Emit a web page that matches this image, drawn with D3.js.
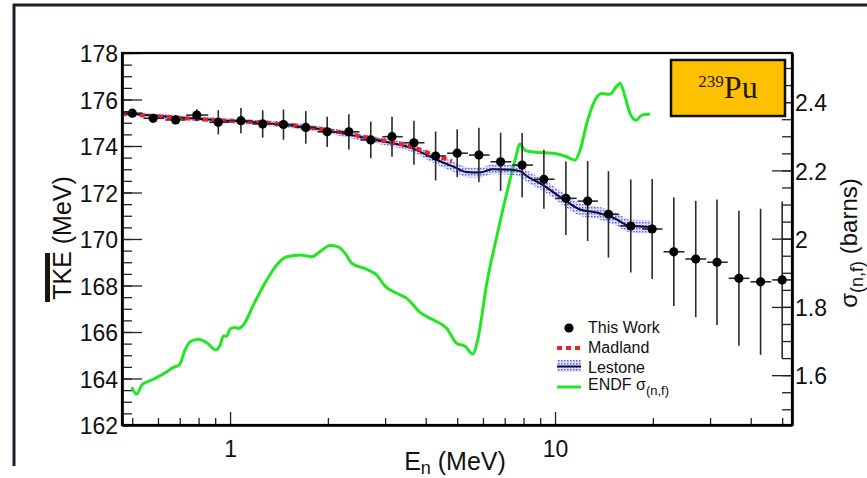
<!DOCTYPE html>
<html>
<head>
<meta charset="utf-8">
<script src="https://cdn.jsdelivr.net/npm/d3@7"></script>
<style>
body { margin: 0; background: #fff; }
svg { display: block; font-family: "Liberation Sans", Arial, sans-serif; }
</style>
</head>
<body>
<div id="chart"></div>
<script>
// measured TKE, one point per energy bin
const energy = [0.50, 0.58, 0.68, 0.79, 0.92, 1.08, 1.26, 1.46, 1.71, 1.99, 2.32, 2.71, 3.15, 3.68, 4.29,
                5.00, 5.83, 6.80, 7.92, 9.24, 10.8, 12.6, 14.6, 17.1, 19.9, 23.2, 27.1, 31.5, 36.8, 42.9, 50.0];
const binEdges = [0.46, 0.54, 0.63, 0.73, 0.86, 1.0, 1.17, 1.36, 1.58, 1.85, 2.15, 2.51, 2.93, 3.41, 3.98, 4.64,
                  5.41, 6.31, 7.36, 8.58, 10.0, 11.7, 13.6, 15.8, 18.5, 21.5, 25.1, 29.3, 34.1, 39.8, 46.4, 54.1];
const tke = [175.41, 175.19, 175.12, 175.33, 175.02, 175.09, 174.95, 174.92, 174.80, 174.61, 174.61, 174.26,
             174.40, 174.14, 173.57, 173.69, 173.61, 173.32, 173.18, 172.57, 171.75, 171.63, 171.06, 170.56,
             170.43, 169.45, 169.14, 169.00, 168.31, 168.16, 168.24];
const tkeErr = [0.12, 0.15, 0.18, 0.25, 0.52, 0.54, 0.59, 0.65, 0.70, 0.65, 0.76, 0.79, 0.86, 0.95, 1.05,
                1.03, 1.17, 1.25, 1.38, 1.27, 1.58, 1.72, 1.86, 2.00, 2.15, 2.33, 2.50, 2.70, 2.90, 3.14, 3.37];

// Madland model
const madlandE = [0.465, 0.81, 1.46, 1.99, 2.70, 3.66, 4.27, 4.64, 4.82];
const madlandTKE = [175.38, 175.15, 174.93, 174.69, 174.33, 173.94, 173.60, 173.43, 173.35];

// Lestone model with its band
const lestoneE = [0.465, 0.81, 1.46, 1.99, 2.70, 3.66, 4.27, 4.86, 5.40, 5.88, 6.40, 7.27, 7.80, 8.20, 9.19,
                  10.58, 11.94, 13.56, 15.30, 17.01, 19.74];
const lestoneTKE = [175.41, 175.16, 174.92, 174.67, 174.30, 173.89, 173.44, 173.11, 172.87, 172.86, 173.00,
                    172.98, 172.92, 172.70, 172.32, 171.72, 171.27, 171.13, 170.88, 170.56, 170.52];
const lestoneErr = [0.10, 0.10, 0.12, 0.13, 0.15, 0.17, 0.20, 0.22, 0.22, 0.22, 0.22, 0.22, 0.24, 0.25, 0.26,
                    0.27, 0.27, 0.27, 0.28, 0.28, 0.28];

// ENDF fission cross section (right axis)
const endfE = [0.498, 0.516, 0.535, 0.581, 0.639, 0.669, 0.698, 0.727, 0.753, 0.799, 0.848, 0.904, 0.932,
               0.954, 0.977, 1.0, 1.036, 1.060, 1.099, 1.180, 1.297, 1.392, 1.495, 1.642, 1.784, 1.892, 2.031,
               2.154, 2.259, 2.369, 2.634, 2.828, 2.999, 3.259, 3.498, 3.842, 4.222, 4.643, 4.984, 5.286,
               5.582, 5.808, 6.164, 6.616, 7.102, 7.533, 7.803, 8.085, 8.576, 9.88, 10.86, 11.52, 11.94,
               12.52, 13.12, 13.92, 14.76, 15.48, 15.85, 16.42, 17.01, 17.75, 18.49, 19.6];
const endfSigma = [1.565, 1.544, 1.571, 1.588, 1.610, 1.623, 1.630, 1.674, 1.698, 1.705, 1.695, 1.674, 1.688,
                   1.715, 1.715, 1.735, 1.740, 1.737, 1.747, 1.806, 1.879, 1.923, 1.947, 1.952, 1.947, 1.962,
                   1.980, 1.976, 1.957, 1.928, 1.910, 1.893, 1.861, 1.840, 1.825, 1.784, 1.762, 1.737, 1.693,
                   1.685, 1.662, 1.713, 1.869, 2.006, 2.133, 2.230, 2.277, 2.259, 2.254, 2.250, 2.240, 2.230,
                   2.259, 2.338, 2.396, 2.425, 2.423, 2.447, 2.455, 2.416, 2.367, 2.347, 2.362, 2.365];

const leftTicks = [162, 164, 166, 168, 170, 172, 174, 176, 178];
const rightTicks = [1.6, 1.8, 2, 2.2, 2.4];
const bottomTicks = [1, 10];
const bottomMinor = [0.5, 0.6, 0.7, 0.8, 0.9, 2, 3, 4, 5, 6, 7, 8, 9, 20, 30, 40, 50];

const W = 867, H = 478;
const box = {left: 122, right: 792, top: 53, bottom: 425};

const svg = d3.select("#chart").append("svg")
    .attr("width", W)
    .attr("height", H);

svg.append("rect").attr("width", W).attr("height", H).attr("fill", "#fff");

// slide frame
svg.append("line").attr("x1", 13).attr("x2", W).attr("y1", 5).attr("y2", 5)
    .attr("stroke", "#1c1c2a").attr("stroke-width", 3);
svg.append("line").attr("x1", 14).attr("x2", 14).attr("y1", 4).attr("y2", 466)
    .attr("stroke", "#1c1c2a").attr("stroke-width", 3);

const x = d3.scaleLog().domain([0.465, 53.6]).range([box.left, box.right]);
const y = d3.scaleLinear().domain([162, 178]).range([box.bottom, box.top]);
const y2 = d3.scaleLinear().domain([1.454, 2.544]).range([box.bottom, box.top]);

const defs = svg.append("defs");
defs.append("clipPath").attr("id", "clip")
    .append("rect")
    .attr("x", box.left).attr("y", box.top)
    .attr("width", box.right - box.left).attr("height", box.bottom - box.top);

const pat = defs.append("pattern").attr("id", "hatch")
    .attr("width", 3).attr("height", 3)
    .attr("patternUnits", "userSpaceOnUse");
pat.append("rect").attr("width", 3).attr("height", 3).attr("fill", "rgba(130,130,255,0.25)");
pat.append("rect").attr("width", 1.5).attr("height", 1.5).attr("fill", "#3434ff").attr("opacity", 0.75);

const plot = svg.append("g").attr("clip-path", "url(#clip)");

// ENDF curve
const endfData = endfE.map((e, i) => ({e: e, s: endfSigma[i]}));
plot.append("path")
    .datum(endfData)
    .attr("fill", "none")
    .attr("stroke", "#22e622")
    .attr("stroke-width", 3)
    .attr("stroke-linejoin", "round")
    .attr("d", d3.line().x(d => x(d.e)).y(d => y2(d.s)).curve(d3.curveMonotoneX));

// Lestone band + line
const lestoneData = lestoneE.map((e, i) => ({e: e, v: lestoneTKE[i], err: lestoneErr[i]}));
plot.append("path")
    .datum(lestoneData)
    .attr("fill", "url(#hatch)")
    .attr("d", d3.area().x(d => x(d.e)).y0(d => y(d.v - d.err)).y1(d => y(d.v + d.err)).curve(d3.curveMonotoneX));
plot.append("path")
    .datum(lestoneData)
    .attr("fill", "none")
    .attr("stroke", "#0c0c30")
    .attr("stroke-width", 2)
    .attr("d", d3.line().x(d => x(d.e)).y(d => y(d.v)).curve(d3.curveMonotoneX));

// Madland
const madlandData = madlandE.map((e, i) => ({e: e, v: madlandTKE[i]}));
plot.append("path")
    .datum(madlandData)
    .attr("fill", "none")
    .attr("stroke", "#ff1a1a")
    .attr("stroke-width", 4)
    .attr("stroke-dasharray", "5,4")
    .attr("d", d3.line().x(d => x(d.e)).y(d => y(d.v)).curve(d3.curveMonotoneX));

// data points with error bars
const pts = energy.map((e, i) => ({e: e, v: tke[i], err: tkeErr[i], lo: binEdges[i], hi: binEdges[i + 1]}));
const pg = plot.selectAll("g.pt").data(pts).enter().append("g").attr("class", "pt");
pg.append("line")
    .attr("x1", d => x(d.e)).attr("x2", d => x(d.e))
    .attr("y1", d => y(d.v - d.err)).attr("y2", d => y(d.v + d.err))
    .attr("stroke", "#2a2a2a").attr("stroke-width", 1.6);
pg.append("line")
    .attr("x1", d => x(d.lo) + 0.5).attr("x2", d => x(d.hi) - 0.5)
    .attr("y1", d => y(d.v)).attr("y2", d => y(d.v))
    .attr("stroke", "#2a2a2a").attr("stroke-width", 1.6);
pg.append("circle")
    .attr("cx", d => x(d.e)).attr("cy", d => y(d.v))
    .attr("r", 4.6).attr("fill", "#000");

// axes
function styleAxis(g) {
    g.select(".domain").attr("stroke", "#000").attr("stroke-width", 2.2);
    g.selectAll(".tick line").attr("stroke", "#222").attr("stroke-width", 1.3);
    g.selectAll("text").attr("font-size", 23).attr("fill", "#111")
        .attr("font-family", "'Liberation Sans', Arial, sans-serif");
}

svg.append("g")
    .attr("transform", `translate(${box.left},0)`)
    .call(d3.axisLeft(y).tickValues(d3.range(162, 178.01, 0.5)).tickSize(-10).tickSizeOuter(0).tickFormat(""))
    .call(styleAxis);
svg.append("g")
    .attr("transform", `translate(${box.left},0)`)
    .call(d3.axisLeft(y).tickValues(leftTicks).tickSize(-20).tickSizeOuter(0).tickPadding(4))
    .call(styleAxis)
    .selectAll("text").attr("dy", "0.38em");

svg.append("g")
    .attr("transform", `translate(${box.right},0)`)
    .call(d3.axisRight(y2).tickValues(d3.range(1.5, 2.54, 0.05)).tickSize(-10).tickSizeOuter(0).tickFormat(""))
    .call(styleAxis);
svg.append("g")
    .attr("transform", `translate(${box.right},0)`)
    .call(d3.axisRight(y2).tickValues(rightTicks).tickSize(-20).tickSizeOuter(0).tickPadding(3)
        .tickFormat(d => d3.format("~g")(d)))
    .call(styleAxis)
    .selectAll("text").attr("dy", "0.38em");

svg.append("g")
    .attr("transform", `translate(0,${box.bottom})`)
    .call(d3.axisBottom(x).tickValues(bottomMinor).tickSize(-7).tickSizeOuter(0).tickFormat(""))
    .call(styleAxis);
svg.append("g")
    .attr("transform", `translate(0,${box.bottom})`)
    .call(d3.axisBottom(x).tickValues(bottomTicks).tickSize(-13).tickSizeOuter(0).tickPadding(16)
        .tickFormat(d3.format("d")))
    .call(styleAxis);

// frame top and right
svg.append("rect")
    .attr("x", box.left).attr("y", box.top)
    .attr("width", box.right - box.left).attr("height", box.bottom - box.top)
    .attr("fill", "none").attr("stroke", "#000").attr("stroke-width", 2.2);

// axis titles
svg.append("text")
    .attr("transform", "translate(71,238) rotate(-90)")
    .attr("text-anchor", "middle")
    .attr("font-size", 25).attr("fill", "#111")
    .text("TKE (MeV)");
svg.append("rect").attr("x", 45).attr("y", 253).attr("width", 5).attr("height", 49).attr("fill", "#1e140a");

const y2t = svg.append("text")
    .attr("transform", "translate(857,243) rotate(-90)")
    .attr("text-anchor", "middle")
    .attr("font-size", 24).attr("fill", "#111");
y2t.append("tspan").text("σ");
y2t.append("tspan").attr("font-size", 18).attr("dy", 6).text("(n,f)");
y2t.append("tspan").attr("dy", -6).text(" (barns)");

const xt = svg.append("text")
    .attr("x", 455).attr("y", 470)
    .attr("text-anchor", "middle")
    .attr("font-size", 25).attr("fill", "#111");
xt.append("tspan").text("E");
xt.append("tspan").attr("font-size", 18).attr("dy", 4).text("n");
xt.append("tspan").attr("dy", -4).text(" (MeV)");

// isotope label
svg.append("rect")
    .attr("x", 671).attr("y", 60).attr("width", 114).attr("height", 56)
    .attr("fill", "#ffc000").attr("stroke", "#111").attr("stroke-width", 2.5);
const lab = svg.append("text")
    .attr("x", 728).attr("y", 98)
    .attr("text-anchor", "middle")
    .attr("font-family", "'Liberation Serif', 'Times New Roman', serif")
    .attr("fill", "#1a1a1a");
lab.append("tspan").attr("font-size", 17).attr("dy", -11).text("239");
lab.append("tspan").attr("font-size", 32).attr("dy", 11).text("Pu");

// legend
const lg = svg.append("g").attr("font-size", 16).attr("fill", "#111");
lg.append("circle").attr("cx", 569).attr("cy", 328).attr("r", 4.6).attr("fill", "#000");
lg.append("text").attr("x", 588).attr("y", 333).text("This Work");
lg.append("line").attr("x1", 557).attr("x2", 581).attr("y1", 348).attr("y2", 348)
    .attr("stroke", "#ff1a1a").attr("stroke-width", 4).attr("stroke-dasharray", "5,4");
lg.append("text").attr("x", 588).attr("y", 353).text("Madland");
lg.append("rect").attr("x", 557).attr("y", 360).attr("width", 24).attr("height", 12).attr("fill", "url(#hatch)");
lg.append("line").attr("x1", 557).attr("x2", 581).attr("y1", 366.5).attr("y2", 366.5)
    .attr("stroke", "#0c0c30").attr("stroke-width", 2);
lg.append("text").attr("x", 588).attr("y", 372.5).text("Lestone");
lg.append("line").attr("x1", 557).attr("x2", 581).attr("y1", 387).attr("y2", 387)
    .attr("stroke", "#22e622").attr("stroke-width", 3);
const lt = lg.append("text").attr("x", 588).attr("y", 390);
lt.append("tspan").text("ENDF σ");
lt.append("tspan").attr("font-size", 13).attr("dy", 5).text("(n,f)");
</script>
</body>
</html>
